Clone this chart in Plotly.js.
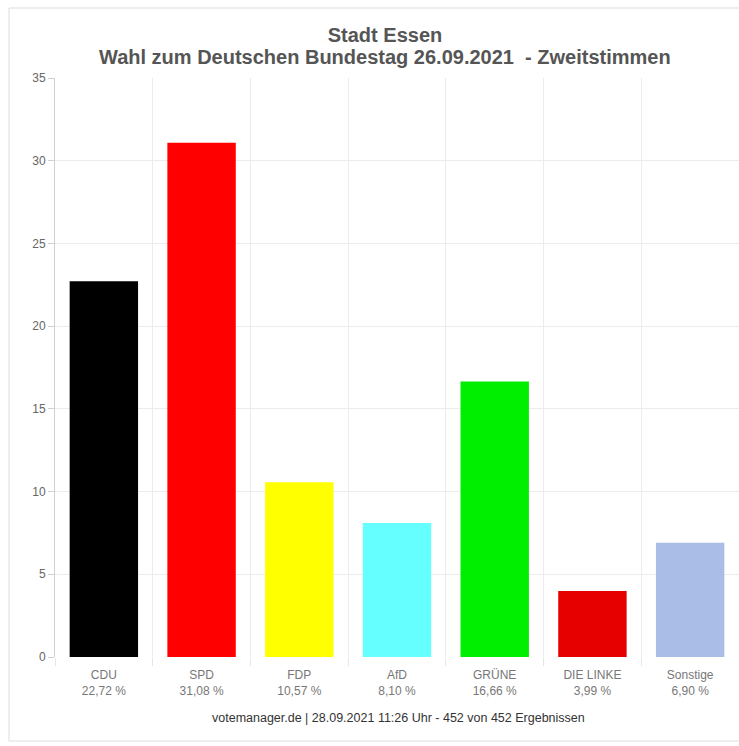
<!DOCTYPE html>
<html>
<head>
<meta charset="utf-8">
<script src="https://cdn.plot.ly/plotly-3.0.1.min.js"></script>
<style>html,body{margin:0;padding:0;background:#fff;}#chart{width:739px;height:746px;}</style>
</head>
<body>
<div id="chart"></div>
<script>
const parties = ["CDU", "SPD", "FDP", "AfD", "GRÜNE", "DIE LINKE", "Sonstige"];
const shares = [22.72, 31.08, 10.57, 8.10, 16.66, 3.99, 6.90];
const shareLabels = ["22,72 %", "31,08 %", "10,57 %", "8,10 %", "16,66 %", "3,99 %", "6,90 %"];
const colors = ["#000000", "#ff0000", "#ffff00", "#66ffff", "#00ee00", "#e60000", "#a9bde6"];
const yTicks = [0, 5, 10, 15, 20, 25, 30, 35];
const titleLine1 = "Stadt Essen";
const titleLine2 = "Wahl zum Deutschen Bundestag 26.09.2021  - Zweitstimmen";
const footerText = "votemanager.de | 28.09.2021 11:26 Uhr - 452 von 452 Ergebnissen";

const tickText = parties.map((p, i) => p + "<br>" + shareLabels[i]);

const trace = {
  type: "bar",
  x: parties,
  y: shares,
  marker: {color: colors, line: {width: 0}},
  hoverinfo: "none"
};

const W = 739, H = 746, L = 55, R = 0, T = 78, B = 89;
const pw = W - L - R, ph = H - T - B;
const px = v => (v - L) / pw;
const py = v => (H - B - v) / ph;
const titleFont = {family: "Liberation Sans, Arial, sans-serif", size: 20, color: "#555", weight: "bold"};

const layout = {
  width: W, height: H,
  margin: {l: L, r: R, t: T, b: B, pad: 0},
  paper_bgcolor: "#ffffff",
  plot_bgcolor: "#ffffff",
  showlegend: false,
  bargap: 0.3,
  font: {family: "Liberation Sans, Arial, sans-serif", color: "#666"},
  title: {
    text: titleLine1,
    font: titleFont,
    x: 385 / W, xref: "container", xanchor: "center",
    y: 1 - 35 / H, yref: "container", yanchor: "middle"
  },
  xaxis: {
    type: "category",
    tickvals: parties,
    ticktext: tickText,
    tickson: "boundaries",
    ticks: "outside",
    ticklen: 8,
    tickcolor: "#e6e6e6",
    ticklabelstandoff: 9,
    showgrid: true,
    gridcolor: "#ececec",
    gridwidth: 1,
    showline: false,
    zeroline: false,
    tickfont: {size: 12, color: "#777"},
    fixedrange: true
  },
  yaxis: {
    range: [0, 35],
    tickvals: yTicks,
    ticks: "outside",
    ticklen: 6,
    tickcolor: "#d0d0d0",
    showgrid: true,
    gridcolor: "#ececec",
    showline: true,
    linecolor: "#d0d0d0",
    linewidth: 1,
    zeroline: false,
    tickfont: {size: 12, color: "#666"},
    fixedrange: true
  },
  shapes: [{
    type: "rect", xref: "paper", yref: "paper",
    x0: px(9), x1: px(748), y0: py(741), y1: py(8),
    line: {color: "#dddddd", width: 1}, fillcolor: "rgba(0,0,0,0)", layer: "below"
  }],
  annotations: [{
    text: titleLine2, xref: "paper", yref: "paper",
    x: px(385), y: py(57), xanchor: "center", yanchor: "middle",
    showarrow: false, font: titleFont
  }, {
    text: footerText, xref: "paper", yref: "paper",
    x: px(398), y: py(718), xanchor: "center", yanchor: "middle",
    showarrow: false, font: {size: 12.5, color: "#333"}
  }]
};

Plotly.newPlot("chart", [trace], layout, {displayModeBar: false, staticPlot: true});
</script>
</body>
</html>
